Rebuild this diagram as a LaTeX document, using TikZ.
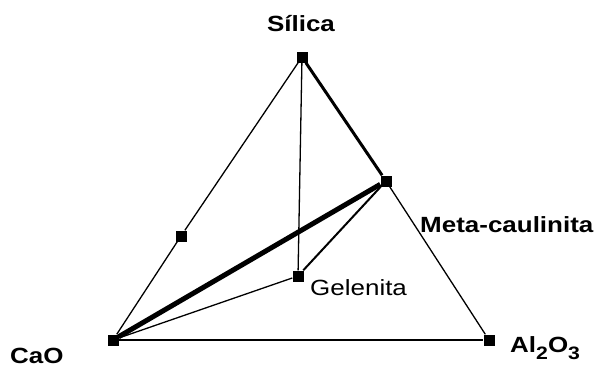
\documentclass[tikz,border=0pt]{standalone}
\usepackage{fontspec}
\setmainfont{Liberation Sans}
\usetikzlibrary{positioning}
\tikzset{
    vert/.style={fill=black, minimum size=11pt, inner sep=0pt},
    lbl/.style={font=\fontsize{22}{24}\selectfont\bfseries, xscale=1.18, inner sep=0pt},
}
\newcommand{\lowsub}[1]{\raisebox{-7pt}{\fontsize{18}{20}\selectfont #1}}

\begin{document}
\begin{tikzpicture}[x=1pt, y=-1pt]
    \useasboundingbox (0,0) rectangle (601,367);
    % vertices
    \node[vert] (sil) at (302,57) {};
    \node[vert] (cao) at (113,340) {};
    \node[vert] (alo) at (489,340) {};
    \node[vert] (meta) at (386,181) {};
    \node[vert] (gel) at (298,276) {};
    \node[vert] (mid) at (181,236) {};
    % labels
    \node[lbl, anchor=base] (tsil) at (301,31) {Sílica};
    \node[lbl, anchor=base west] (tcao) at (10,363) {CaO};
    \node[lbl, anchor=base west] (talo) at (510,352) {Al\lowsub{2}O\lowsub{3}};
    \node[lbl, anchor=base west] (tmeta) at (420,232) {Meta-caulinita};
    \node[lbl, font=\fontsize{22}{24}\selectfont, anchor=base west] (tgel) at (310,295) {Gelenita};
    % edges
    \draw[line width=1.3pt] (sil) -- (mid) -- (cao);
    \draw[line width=1.3pt] (cao) -- (alo);
    \draw[line width=1.3pt] (meta) -- (alo);
    \draw[line width=3pt] (sil) -- (meta);
    \draw[line width=1.3pt] (sil) -- (gel);
    \draw[line width=1.3pt] (cao) -- (gel);
    \draw[line width=2pt] (gel) -- (meta);
    \draw[line width=5pt] (cao) -- (meta);
\end{tikzpicture}
\end{document}
